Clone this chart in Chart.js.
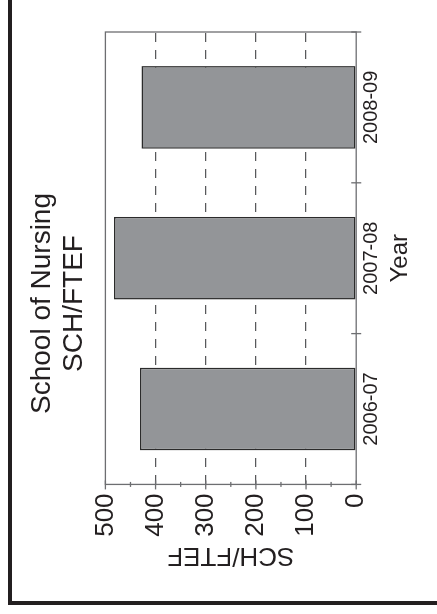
<!DOCTYPE html>
<html>
<head>
<meta charset="utf-8">
<script src="https://cdn.jsdelivr.net/npm/chart.js@4.4.0/dist/chart.umd.min.js"></script>
<style>
  html, body { margin: 0; padding: 0; background: #fff; }
  body { width: 437px; height: 614px; overflow: hidden; position: relative; }
  /* the whole figure is turned a quarter turn, so it is laid out flat and rotated */
  #turn {
    position: absolute; left: 0; top: 0;
    width: 614px; height: 437px; overflow: hidden;
    transform-origin: 0 0;
    transform: translate(0, 614px) rotate(-90deg);
    background: #fff;
  }
  #frame {
    position: absolute; left: 9px; top: 8px; width: 800px; height: 600px;
    border-left: 4px solid #231f20; border-top: 4px solid #231f20;
  }
  #box { position: absolute; left: 13px; top: 12px; width: 608px; height: 425px; }
</style>
</head>
<body>
<div id="turn">
  <div id="frame"></div>
  <div id="box"><canvas id="c"></canvas></div>
</div>
<script>
// data
var years = ['2006-07', '2007-08', '2008-09'];
var schFtef = [431, 483, 428];
var yTicks = [0, 100, 200, 300, 400, 500];

var ink = '#231f20';
var axisGrey = '#6d6e71';

// frame box + small tick marks that cross the axes
var frameTicks = {
    id: 'frameTicks',
    afterDraw: function(chart) {
        var c = chart.ctx;
        var a = chart.chartArea;
        var x = chart.scales.x, y = chart.scales.y;
        c.save();
        c.strokeStyle = axisGrey;
        c.lineWidth = 1.3;
        c.strokeRect(a.left, a.top, a.right - a.left, a.bottom - a.top);
        // y ticks, minor every 50
        for (var v = 0; v <= 500; v += 50) {
            var py = y.getPixelForValue(v);
            var major = v % 100 === 0;
            c.beginPath();
            c.moveTo(a.left - (major ? 5 : 2.5), py);
            c.lineTo(a.left + (major ? 4 : 2.5), py);
            c.stroke();
        }
        // x ticks on category boundaries
        var step = (x.right - x.left) / years.length;
        for (var i = 0; i <= years.length; i++) {
            var px = x.left + i * step;
            c.beginPath();
            c.moveTo(px, a.bottom - 5);
            c.lineTo(px, a.bottom + 5);
            c.stroke();
        }
        c.restore();
    }
};

new Chart(document.getElementById('c'), {
    type: 'bar',
    data: {
        labels: years,
        datasets: [{
            data: schFtef,
            backgroundColor: '#939598',
            borderColor: '#2b2b2b',
            borderWidth: 1.5,
            borderSkipped: false,
            categoryPercentage: 1,
            barPercentage: 0.548
        }]
    },
    options: {
        responsive: true,
        maintainAspectRatio: false,
        animation: false,
        events: [],
        layout: { padding: { left: 26, right: 39, top: 0, bottom: 22 } },
        plugins: {
            legend: { display: false },
            tooltip: { enabled: false },
            title: {
                display: true,
                text: ['School of Nursing', 'SCH/FTEF'],
                color: ink,
                font: { family: '"Liberation Sans", Arial, sans-serif', size: 28, weight: 'normal', lineHeight: 1.15 },
                padding: { top: 14, bottom: 15 }
            }
        },
        scales: {
            x: {
                offset: true,
                border: { display: false },
                grid: { display: true, offset: true, drawOnChartArea: false, drawTicks: false, color: 'rgba(0,0,0,0)' },
                ticks: {
                    color: ink, padding: 3,
                    font: { family: '"Liberation Sans", Arial, sans-serif', size: 20 }
                },
                title: {
                    display: true, text: 'Year', color: ink,
                    font: { family: '"Liberation Sans", Arial, sans-serif', size: 24 },
                    padding: { top: 0, bottom: 0 }
                }
            },
            y: {
                min: 0, max: 500,
                afterBuildTicks: function(s) { s.ticks = yTicks.map(function(v) { return { value: v }; }); },
                border: { display: false, dash: [9, 8] },
                grid: {
                    drawTicks: false,
                    color: function(ctx) {
                        var v = ctx.tick ? ctx.tick.value : 0;
                        return (v === 0 || v === 500) ? 'rgba(0,0,0,0)' : '#58595b';
                    },
                    lineWidth: 1.3
                },
                ticks: {
                    color: ink, padding: 9, autoSkip: false,
                    font: { family: '"Liberation Sans", Arial, sans-serif', size: 26 }
                },
                title: {
                    display: true, text: 'SCH/FTEF', color: ink,
                    font: { family: '"Liberation Sans", Arial, sans-serif', size: 26 },
                    padding: { top: 4, bottom: -6 }
                }
            }
        }
    },
    plugins: [frameTicks]
});
</script>
</body>
</html>
